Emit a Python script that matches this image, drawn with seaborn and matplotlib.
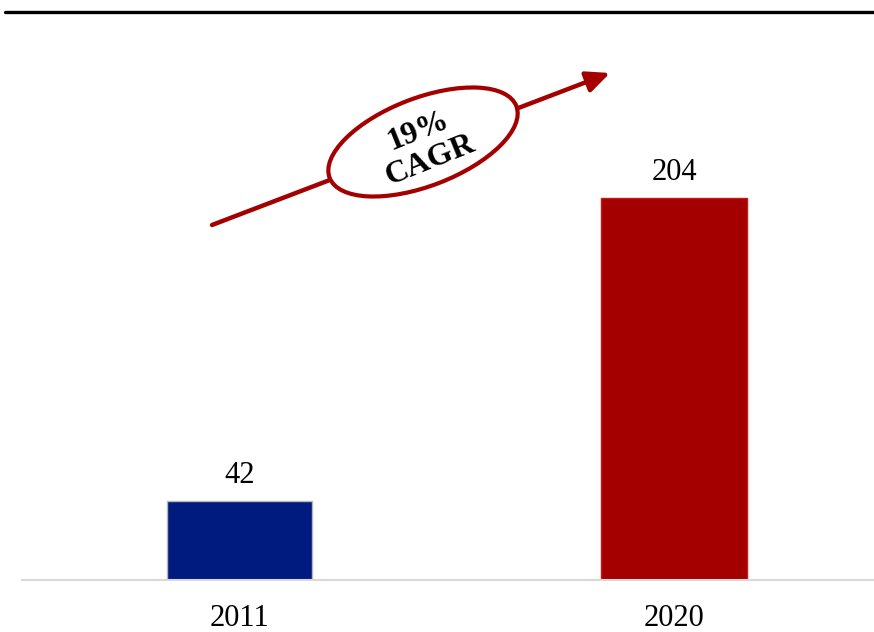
import matplotlib
matplotlib.use("Agg")
import matplotlib.pyplot as plt
import seaborn as sns
import pandas as pd
from matplotlib.patches import Ellipse
from matplotlib.lines import Line2D

# Market size by year
years = ["2011", "2020"]
values = [42, 204]
bar_colors = ["#001b80", "#a50000"]
edge_colors = ["#b8b8b8", "#c81818"]
cagr_label = "19%\nCAGR"

sns.set_theme(style="white")
plt.rcParams["font.family"] = ["Liberation Serif", "DejaVu Serif"]

W, H = 874, 632
fig = plt.figure(figsize=(W / 100, H / 100), dpi=100)
ax = fig.add_axes([22 / W, (H - 580) / H, (W - 22) / W, 550 / H])

df = pd.DataFrame({"year": years, "value": values})
sns.barplot(data=df, x="year", y="value", hue="year", palette=bar_colors,
            width=0.334, legend=False, ax=ax, saturation=1)
for patch, ec in zip(ax.patches, edge_colors):
    patch.set_edgecolor(ec)
    patch.set_linewidth(1.0)

ax.set_xlim(-0.5, 1.46)
ax.set_ylim(0, 294)
for s in ["top", "right", "left"]:
    ax.spines[s].set_visible(False)
ax.spines["bottom"].set_color("#d9d9d9")
ax.spines["bottom"].set_linewidth(1.5)
ax.set_yticks([])
ax.set_xlabel("")
ax.set_ylabel("")
ax.tick_params(axis="x", length=0, pad=17, labelsize=22, labelcolor="black")

for cont in ax.containers:
    ax.bar_label(cont, labels=[f"{v:g}" for v in cont.datavalues],
                 padding=8, fontsize=22, color="black")

# Header rule
fig.add_artist(Line2D([5 / W, 1.0], [1 - 12 / H, 1 - 12 / H],
                      transform=fig.transFigure, color="black", lw=2.4))

# Growth arrow with CAGR badge
red = "#a50000"
ax.annotate("", xy=(610, H - 73), xycoords="figure pixels",
            xytext=(212, H - 225), textcoords="figure pixels",
            arrowprops=dict(arrowstyle="-|>,head_length=0.7,head_width=0.32",
                            color=red, lw=3.2, shrinkA=0, shrinkB=0,
                            mutation_scale=20))
ell = Ellipse((4.23, (H - 142) / 100), width=2.0, height=0.88, angle=21,
              transform=fig.dpi_scale_trans, facecolor="white",
              edgecolor=red, lw=3.0, zorder=5)
fig.add_artist(ell)
fig.text(424 / W, 1 - 146 / H, cagr_label, ha="center", va="center",
         rotation=22, rotation_mode="anchor", fontsize=23, fontweight="bold",
         multialignment="center", linespacing=1.12, color="black", zorder=6)

fig.savefig("out.png", dpi=100)
